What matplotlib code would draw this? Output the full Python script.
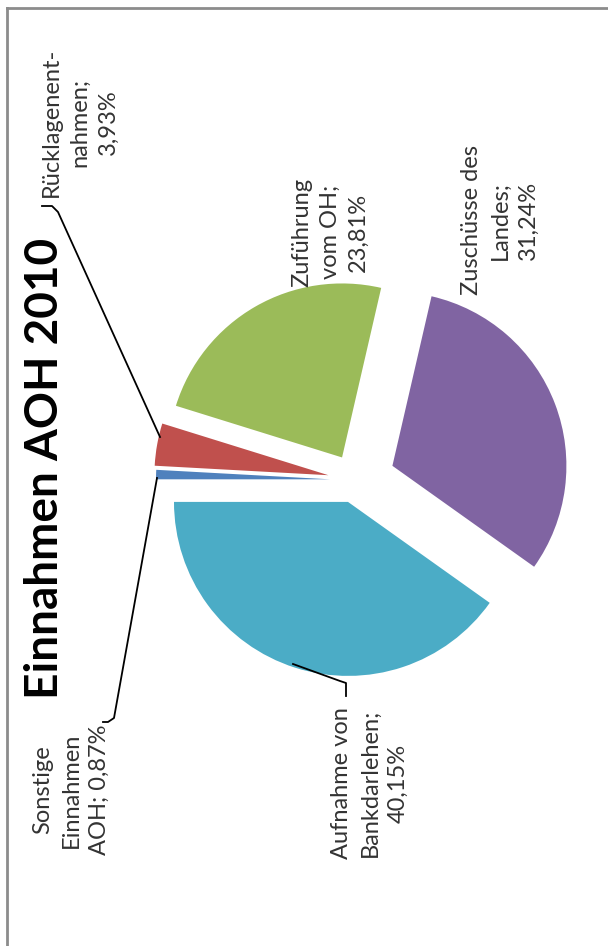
import matplotlib
matplotlib.use("Agg")
import matplotlib.pyplot as plt

# data, in drawing order (counter-clockwise from the left)
names = ["Aufnahme von\nBankdarlehen", "Zuschüsse des\nLandes", "Zuführung\nvom OH",
         "Rücklagenent-\nnahmen", "Sonstige\nEinnahmen\nAOH"]
values = [40.15, 31.24, 23.81, 3.93, 0.87]
colors = ["#4BACC6", "#8064A2", "#9BBB59", "#C0504D", "#4F81BD"]
title = "Einnahmen AOH 2010"

# the whole chart is turned by 90 degrees, so work in pixel units (y up)
W, H = 608, 946
explode = [23, 40, 26, 27, 25]
center = (355, H - 480)
radius = 174

# label centres (pixels) and leader lines
label_pos = [(370, H - 783), (500, H - 220), (330, H - 232), (80, H - 122), (71, H - 790)]
leaders = {
    0: [(293, 664), (340, 681), (346, 683), (346, 696)],
    3: [(160, 437), (58, 212), (52, 206), (42, 206)],
    4: [(157, 478), (114, 718), (108, 722), (103, 722)],
}

plt.rcParams['font.family'] = ['Lato', 'DejaVu Sans']

fig = plt.figure(figsize=(W / 100, H / 100), dpi=100)
ax = fig.add_axes([0, 0, 1, 1])

ax.pie(values, colors=colors, explode=explode, startangle=180, counterclock=True,
       center=center, radius=radius, wedgeprops=dict(linewidth=0))

for i, (name, val) in enumerate(zip(names, values)):
    pct = ("%.2f" % val).replace(".", ",") + "%"
    # the small slice puts the value on the last line with the name
    if i == 4:
        txt = name + "; " + pct
    else:
        txt = name + ";\n" + pct
    x, y = label_pos[i]
    ax.text(x, y, txt, rotation=90, ha='center', va='center', multialignment='center',
            fontsize=17, color='#333333', linespacing=1.42)

for k, pts in leaders.items():
    xs = [p[0] for p in pts]
    ys = [H - p[1] for p in pts]
    ax.plot(xs, ys, color='black', linewidth=1.3)

ax.text(45, H - 468, title, rotation=90, ha='center', va='center',
        fontsize=33, fontweight='bold', color='black')

# grey frame (top and left edges only visible)
ax.plot([7, W], [H - 8, H - 8], color='#8c8c8c', linewidth=2)
ax.plot([7, 7], [H - 8, 0], color='#8c8c8c', linewidth=2)

ax.set_xlim(0, W)
ax.set_ylim(0, H)
ax.axis('off')

fig.savefig("out.png", dpi=100)
